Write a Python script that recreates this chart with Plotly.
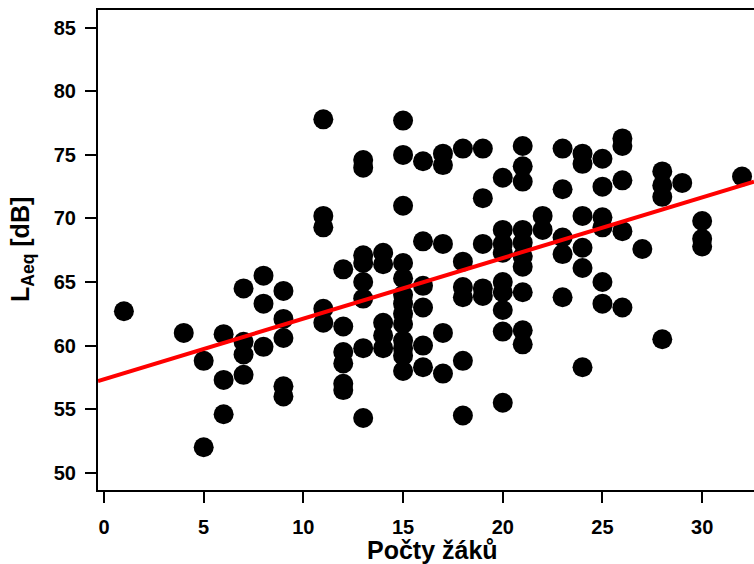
import plotly.graph_objects as go

# Number of pupils in the classroom and measured equivalent sound level
pupils = [
    1,
    4,
    5, 5,
    6, 6, 6,
    7, 7, 7, 7,
    8, 8, 8,
    9, 9, 9, 9, 9,
    11, 11, 11, 11, 11,
    12, 12, 12, 12, 12, 12,
    13, 13, 13, 13, 13, 13, 13, 13,
    14, 14, 14, 14, 14,
    15, 15, 15, 15, 15, 15, 15, 15, 15, 15, 15, 15, 15,
    16, 16, 16, 16, 16, 16,
    17, 17, 17, 17, 17,
    18, 18, 18, 18, 18, 18,
    19, 19, 19, 19, 19,
    20, 20, 20, 20, 20, 20, 20, 20, 20,
    21, 21, 21, 21, 21, 21, 21, 21, 21, 21,
    22, 22,
    23, 23, 23, 23, 23,
    24, 24, 24, 24, 24, 24,
    25, 25, 25, 25, 25, 25,
    26, 26, 26, 26, 26,
    27,
    28, 28, 28, 28,
    29,
    30, 30, 30,
    32,
]
laeq = [
    62.7,
    61.0,
    58.8, 52.0,
    60.9, 57.3, 54.6,
    64.5, 60.3, 59.3, 57.7,
    65.5, 63.3, 59.9,
    64.3, 62.1, 60.6, 56.8, 56.0,
    77.8, 70.2, 69.3, 62.9, 61.8,
    66.0, 61.5, 59.5, 58.6, 57.0, 56.5,
    74.6, 74.0, 67.1, 66.5, 65.0, 63.7, 59.8, 54.3,
    67.3, 66.4, 61.8, 60.8, 59.8,
    77.7, 75.0, 71.0, 66.5, 65.3, 64.0, 63.3, 62.5, 61.7, 60.4, 59.8, 59.2, 58.0,
    74.5, 68.2, 64.7, 63.0, 60.0, 58.3,
    75.1, 74.2, 68.0, 61.0, 57.8,
    75.5, 66.6, 64.6, 63.8, 58.8, 54.5,
    75.5, 71.6, 68.0, 64.5, 63.9,
    73.2, 69.1, 68.0, 67.3, 65.0, 64.2, 62.8, 61.1, 55.5,
    75.7, 74.1, 72.9, 69.1, 68.1, 67.0, 66.2, 64.2, 61.2, 60.1,
    70.2, 69.1,
    75.5, 72.3, 68.5, 67.2, 63.8,
    75.1, 74.3, 70.2, 67.7, 66.1, 58.3,
    74.7, 72.5, 70.1, 69.3, 65.0, 63.3,
    76.3, 75.7, 73.0, 69.0, 63.0,
    67.6,
    73.7, 72.6, 71.7, 60.5,
    72.8,
    69.8, 68.4, 67.8,
    73.3,
]

# Linear regression line L = a + b * pupils
fit_intercept = 57.35
fit_slope = 0.477

x_range = [-0.3, 32.6]
y_range = [48.64, 86.40]
x_ticks = [0, 5, 10, 15, 20, 25, 30]
y_ticks = [50, 55, 60, 65, 70, 75, 80, 85]

FONT = "Liberation Sans"

fig = go.Figure()
fig.add_trace(go.Scatter(
    x=pupils, y=laeq, mode="markers",
    marker=dict(size=20, color="black", line=dict(width=0)),
    hoverinfo="skip", showlegend=False, cliponaxis=False,
))
fig.add_trace(go.Scatter(
    x=x_range, y=[fit_intercept + fit_slope * v for v in x_range],
    mode="lines", line=dict(color="#ff0000", width=4),
    hoverinfo="skip", showlegend=False,
))

axis_common = dict(
    showgrid=False, zeroline=False,
    showline=True, linecolor="black", linewidth=2,
    ticks="outside", ticklen=11, tickwidth=2, tickcolor="black",
    tickfont=dict(family=FONT, size=20, color="black", weight="bold"),
)
fig.update_xaxes(range=x_range, tickvals=x_ticks, mirror=True,
                 ticklabelstandoff=7, **axis_common)
fig.update_yaxes(range=y_range, tickvals=y_ticks, mirror=False,
                 ticklabelstandoff=5, **axis_common)

fig.add_annotation(
    text="Počty žáků", xref="paper", yref="paper",
    x=(432 - 98) / (754 - 98), y=0, yshift=-60, yanchor="middle",
    showarrow=False,
    font=dict(family=FONT, size=25, color="black", weight="bold"),
)
fig.add_annotation(
    text="L<sub>Aeq</sub> [dB]", xref="paper", yref="paper",
    x=0, xshift=-76, y=0.5, textangle=-90, xanchor="center",
    showarrow=False,
    font=dict(family=FONT, size=25, color="black", weight="bold"),
)

fig.update_layout(
    width=754, height=564,
    margin=dict(l=98, r=0, t=10, b=74),
    paper_bgcolor="white", plot_bgcolor="white",
)

fig.write_html("out.html")
